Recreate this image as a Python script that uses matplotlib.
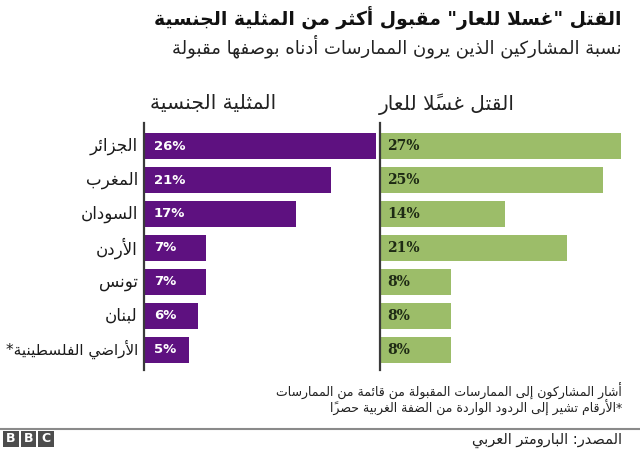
import matplotlib
matplotlib.use("Agg")
import matplotlib.pyplot as plt
from matplotlib.patches import Rectangle
from matplotlib.lines import Line2D

# data
countries = ["الجزائر", "المغرب", "السودان", "الأردن", "تونس", "لبنان", "الأراضي الفلسطينية*"]
homosexuality = [26, 21, 17, 7, 7, 6, 5]
honour_killing = [27, 25, 14, 21, 8, 8, 8]

title = 'القتل "غسلا للعار" مقبول أكثر من المثلية الجنسية'
subtitle = "نسبة المشاركين الذين يرون الممارسات أدناه بوصفها مقبولة"
head_left = "المثلية الجنسية"
head_right = "القتل غسلاً للعار"
note1 = "أشار المشاركون إلى الممارسات المقبولة من قائمة من الممارسات"
note2 = "*الأرقام تشير إلى الردود الواردة من الضفة الغربية حصراً"
source = "المصدر: البارومتر العربي"

PURPLE = "#5e1180"
GREEN = "#9cbd69"

# minimal arabic shaping: letter -> (first presentation form, number of forms)
FORMS = {
    "ء": (0xFE80, 1), "آ": (0xFE81, 2), "أ": (0xFE83, 2), "ؤ": (0xFE85, 2),
    "إ": (0xFE87, 2), "ئ": (0xFE89, 4), "ا": (0xFE8D, 2), "ب": (0xFE8F, 4),
    "ة": (0xFE93, 2), "ت": (0xFE95, 4), "ث": (0xFE99, 4), "ج": (0xFE9D, 4),
    "ح": (0xFEA1, 4), "خ": (0xFEA5, 4), "د": (0xFEA9, 2), "ذ": (0xFEAB, 2),
    "ر": (0xFEAD, 2), "ز": (0xFEAF, 2), "س": (0xFEB1, 4), "ش": (0xFEB5, 4),
    "ص": (0xFEB9, 4), "ض": (0xFEBD, 4), "ط": (0xFEC1, 4), "ظ": (0xFEC5, 4),
    "ع": (0xFEC9, 4), "غ": (0xFECD, 4), "ف": (0xFED1, 4), "ق": (0xFED5, 4),
    "ك": (0xFED9, 4), "ل": (0xFEDD, 4), "م": (0xFEE1, 4), "ن": (0xFEE5, 4),
    "ه": (0xFEE9, 4), "و": (0xFEED, 2), "ى": (0xFEEF, 2), "ي": (0xFEF1, 4),
}
LAM_ALEF = {"آ": 0xFEF5, "أ": 0xFEF7, "إ": 0xFEF9, "ا": 0xFEFB}


def is_mark(c):
    return 0x064B <= ord(c) <= 0x0652


def arabic(text):
    # clusters: [base, marks, nforms] ; lam+alef merged into one two-form cluster
    clusters = []
    i = 0
    while i < len(text):
        c = text[i]
        if is_mark(c) and clusters:
            clusters[-1][1] += c
        elif c == "ل" and i + 1 < len(text) and text[i + 1] in LAM_ALEF:
            clusters.append([("LA", text[i + 1]), "", 2])
            i += 1
        else:
            clusters.append([c, "", FORMS[c][1] if c in FORMS else 0])
        i += 1
    out = []
    for k, (base, marks, n) in enumerate(clusters):
        if n == 0:
            out.append(base + marks)
            continue
        prev_n = clusters[k - 1][2] if k > 0 else 0
        next_n = clusters[k + 1][2] if k + 1 < len(clusters) else 0
        join_prev = prev_n == 4 and n >= 2
        join_next = n == 4 and next_n >= 2
        if isinstance(base, tuple):
            ch = chr(LAM_ALEF[base[1]] + (1 if join_prev else 0))
        else:
            start = FORMS[base][0]
            if join_prev and join_next:
                ch = chr(start + 3)
            elif join_next:
                ch = chr(start + 2)
            elif join_prev:
                ch = chr(start + 1)
            else:
                ch = chr(start)
        out.append(ch + marks)
    return "".join(reversed(out))


W, H = 640, 449
fig = plt.figure(figsize=(W / 100, H / 100), dpi=100)
fig.patch.set_facecolor("white")


def fx(x):
    return x / W


def fy(y):
    return 1 - y / H


AR = ["DejaVu Sans"]

# panels
top, bottom = 123, 370
ax1 = fig.add_axes([fx(144), fy(bottom), fx(234), (bottom - top) / H])
ax2 = fig.add_axes([fx(380), fy(bottom), fx(260), (bottom - top) / H])

rows = list(range(len(countries)))
for ax, vals, col, xmax in [(ax1, homosexuality, PURPLE, 234 / 8.92),
                            (ax2, honour_killing, GREEN, 260 / 8.92)]:
    ax.barh(rows, vals, height=0.77, color=col)
    ax.set_xlim(0, xmax)
    ax.set_ylim(6.6, -0.68)
    ax.axis("off")
    ax.add_line(Line2D([0, 0], [0, 1], transform=ax.transAxes, color="#3a3a3a",
                       lw=1.6, clip_on=False))

for i, v in enumerate(homosexuality):
    ax1.annotate(f"{v}%", (0, i), xytext=(7, 0), textcoords="offset points",
                 ha="left", va="center", color="white", fontsize=9.5,
                 fontweight="bold", family="DejaVu Sans")
for i, v in enumerate(honour_killing):
    ax2.annotate(f"{v}%", (0, i), xytext=(5, 0), textcoords="offset points",
                 ha="left", va="center", color="#1e2a14", fontsize=10,
                 fontweight="bold", family="DejaVu Serif")
    name = countries[i]
    ax1.text(-0.7, i, arabic(name), ha="right", va="center",
             fontsize=11 if len(name) > 12 else 12, family=AR, color="#1a1a1a")

# titles and headers
fig.text(fx(622), fy(18), arabic(title), ha="right", va="center",
         fontsize=13.5, fontweight="bold", family=AR, color="#111111")
fig.text(fx(622), fy(46), arabic(subtitle), ha="right", va="center",
         fontsize=13, family=AR, color="#222222")
fig.text(fx(213), fy(104), arabic(head_left), ha="center", va="center",
         fontsize=14.5, family=AR, color="#222222")
fig.text(fx(447), fy(104), arabic(head_right), ha="center", va="center",
         fontsize=14.5, family=AR, color="#222222")

# footnotes
fig.text(fx(622), fy(391), arabic(note1), ha="right", va="center",
         fontsize=9, family=AR, color="#222222")
fig.text(fx(622), fy(408), arabic(note2), ha="right", va="center",
         fontsize=9, family=AR, color="#222222")
fig.add_artist(Line2D([0, 1], [fy(429), fy(429)], color="#8a8a8a", lw=1.5))
fig.text(fx(622), fy(440), arabic(source), ha="right", va="center",
         fontsize=10.5, family=AR, color="#222222")

# BBC blocks
for k, letter in enumerate("BBC"):
    x0 = 3 + k * 17.5
    fig.add_artist(Rectangle((fx(x0), fy(447)), fx(15.5), 16 / H,
                             color="#4d4d4d", lw=0))
    fig.text(fx(x0 + 7.75), fy(439), letter, ha="center", va="center",
             color="white", fontsize=9, fontweight="bold", family="DejaVu Sans")

fig.savefig("out.png", dpi=100)
